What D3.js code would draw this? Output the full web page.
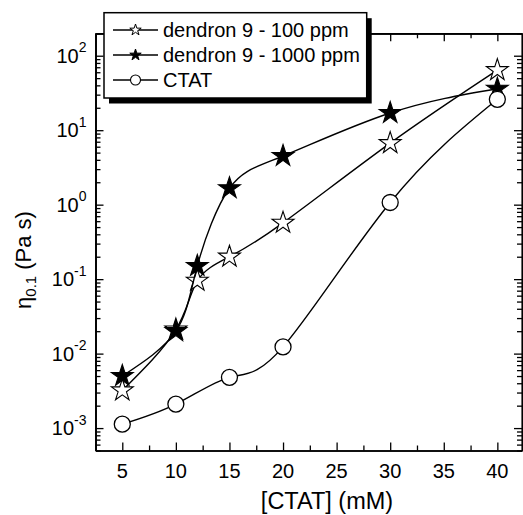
<!DOCTYPE html>
<html>
<head>
<meta charset="utf-8">
<script src="https://cdn.jsdelivr.net/npm/d3@7"></script>
<style>
  html, body { margin: 0; padding: 0; background: #fff; }
  svg { display: block; font-family: "Liberation Sans", Arial, sans-serif; }
</style>
</head>
<body>
<svg id="chart" width="523" height="515"></svg>
<script>
// ---------------- data ----------------
const concX = [5, 10, 12, 15, 20, 30, 40];
const dendron100 = [0.0032, 0.021, 0.095, 0.20, 0.57, 6.7, 64];
const dendron1000 = [0.0050, 0.020, 0.15, 1.66, 4.5, 17, 36];
const ctatX = [5, 10, 15, 20, 30, 40];
const ctatOnly = [0.00113, 0.0021, 0.0048, 0.0123, 1.07, 26];
const seriesNames = ["dendron 9 - 100 ppm", "dendron 9 - 1000 ppm", "CTAT"];
const xTickValues = [5, 10, 15, 20, 25, 30, 35, 40];
const xTickLabels = ["5", "10", "15", "20", "25", "30", "35", "40"];
const yTickExponents = [-3, -2, -1, 0, 1, 2];
const xLabel = "[CTAT] (mM)";

// ---------------- layout ----------------
const svg = d3.select("#chart");
const L = 95.5, R = 522, T = 33.3, B = 450.5;

const x = d3.scaleLinear().domain([2.5, 42.3]).range([L, R]);
const y = d3.scaleLog().domain([5e-4, 200]).range([B, T]);

// minor ticks
const xMinor = d3.range(2.5, 42.3, 2.5).filter(v => v % 5 !== 0);
const yMinor = [];
for (let e = -4; e <= 2; e++) {
  for (let m = 2; m <= 9; m++) {
    const v = m * Math.pow(10, e);
    if (v >= 5e-4 && v <= 200) yMinor.push(v);
  }
}
const yMajor = yTickExponents.map(e => Math.pow(10, e));

function styleAxis(g) {
  g.selectAll("path").attr("stroke", "#000").attr("stroke-width", 1.7);
  g.selectAll("line").attr("stroke", "#000").attr("stroke-width", 1.3);
}

// bottom
svg.append("g").attr("transform", `translate(0,${B})`)
  .call(d3.axisBottom(x).tickValues(xTickValues).tickFormat("").tickSizeInner(-8).tickSizeOuter(0)).call(styleAxis);
svg.append("g").attr("transform", `translate(0,${B})`)
  .call(d3.axisBottom(x).tickValues(xMinor).tickFormat("").tickSizeInner(-5).tickSizeOuter(0)).call(styleAxis);
// top
svg.append("g").attr("transform", `translate(0,${T})`)
  .call(d3.axisTop(x).tickValues(xTickValues).tickFormat("").tickSizeInner(-8).tickSizeOuter(0)).call(styleAxis);
svg.append("g").attr("transform", `translate(0,${T})`)
  .call(d3.axisTop(x).tickValues(xMinor).tickFormat("").tickSizeInner(-5).tickSizeOuter(0)).call(styleAxis);
// left
svg.append("g").attr("transform", `translate(${L},0)`)
  .call(d3.axisLeft(y).tickValues(yMajor).tickFormat("").tickSizeInner(-8).tickSizeOuter(0)).call(styleAxis);
svg.append("g").attr("transform", `translate(${L},0)`)
  .call(d3.axisLeft(y).tickValues(yMinor).tickFormat("").tickSizeInner(-5).tickSizeOuter(0)).call(styleAxis);
// right
svg.append("g").attr("transform", `translate(${R},0)`)
  .call(d3.axisRight(y).tickValues(yMajor).tickFormat("").tickSizeInner(-8).tickSizeOuter(0)).call(styleAxis);
svg.append("g").attr("transform", `translate(${R},0)`)
  .call(d3.axisRight(y).tickValues(yMinor).tickFormat("").tickSizeInner(-5).tickSizeOuter(0)).call(styleAxis);

// x tick labels
svg.append("g").selectAll("text").data(xTickValues).join("text")
  .attr("x", d => x(d)).attr("y", B + 27)
  .attr("text-anchor", "middle").attr("font-size", 20).attr("fill", "#000")
  .text((d, i) => xTickLabels[i]);

// y tick labels
const yl = svg.append("g").selectAll("text").data(yTickExponents).join("text")
  .attr("x", 86.5).attr("y", d => y(Math.pow(10, d)) + 7)
  .attr("text-anchor", "end").attr("font-size", 20).attr("fill", "#000");
yl.append("tspan").text("10");
yl.append("tspan").attr("font-size", 14).attr("dy", -10.5).text(d => String(d));

// axis titles
svg.append("text").attr("x", 327).attr("y", 509).attr("text-anchor", "middle")
  .attr("font-size", 23.5).attr("fill", "#000").text(xLabel);
const yt = svg.append("text").attr("transform", "translate(31,260) rotate(-90)")
  .attr("text-anchor", "middle").attr("font-size", 22).attr("fill", "#000");
yt.append("tspan").text("η");
yt.append("tspan").attr("font-size", 15).attr("dy", 5).text("0.1");
yt.append("tspan").attr("dy", -5).text(" (Pa s)");

// ---------------- marks ----------------
function starPath(Ro) {
  const Ri = Ro * 0.382;
  const pts = [];
  for (let i = 0; i < 10; i++) {
    const r = i % 2 === 0 ? Ro : Ri;
    const a = -Math.PI / 2 + i * Math.PI / 5;
    pts.push([r * Math.cos(a), r * Math.sin(a)]);
  }
  return "M" + pts.map(p => p[0].toFixed(2) + "," + p[1].toFixed(2)).join("L") + "Z";
}

const line = d3.line().x(d => x(d[0])).y(d => y(d[1])).curve(d3.curveNatural);

const series = [
  { xs: concX, ys: dendron100, type: "star", fill: "#fff" },
  { xs: concX, ys: dendron1000, type: "star", fill: "#000" },
  { xs: ctatX, ys: ctatOnly, type: "circle", fill: "#fff" }
];

const plot = svg.append("g");
series.forEach(s => {
  const pts = s.xs.map((v, i) => [v, s.ys[i]]);
  plot.append("path").datum(pts).attr("d", line)
    .attr("fill", "none").attr("stroke", "#000").attr("stroke-width", 1.4);
  const g = plot.append("g");
  if (s.type === "star") {
    g.selectAll("path").data(pts).join("path")
      .attr("d", starPath(11.5))
      .attr("transform", d => `translate(${x(d[0])},${y(d[1])})`)
      .attr("fill", s.fill).attr("stroke", "#000").attr("stroke-width", 1.1)
      .attr("stroke-linejoin", "miter");
  } else {
    g.selectAll("circle").data(pts).join("circle")
      .attr("cx", d => x(d[0])).attr("cy", d => y(d[1])).attr("r", 8)
      .attr("fill", s.fill).attr("stroke", "#000").attr("stroke-width", 1.3);
  }
});

// ---------------- legend ----------------
const lg = svg.append("g");
const lx = 104, ly = 12.7, lw = 262.7, lh = 85.3;
lg.append("rect").attr("x", lx + 5).attr("y", ly + 5.5).attr("width", lw).attr("height", lh).attr("fill", "#000");
lg.append("rect").attr("x", lx).attr("y", ly).attr("width", lw).attr("height", lh)
  .attr("fill", "#fff").attr("stroke", "#000").attr("stroke-width", 1.5);
seriesNames.forEach((name, i) => {
  const cy = 30 + i * 25;
  lg.append("line").attr("x1", 113).attr("x2", 158).attr("y1", cy).attr("y2", cy)
    .attr("stroke", "#000").attr("stroke-width", 1.3);
  const s = series[i];
  if (s.type === "star") {
    lg.append("path").attr("d", starPath(6)).attr("transform", `translate(135.5,${cy})`)
      .attr("fill", s.fill).attr("stroke", "#000").attr("stroke-width", 1);
  } else {
    lg.append("circle").attr("cx", 135.5).attr("cy", cy).attr("r", 5)
      .attr("fill", "#fff").attr("stroke", "#000").attr("stroke-width", 1.1);
  }
  lg.append("text").attr("x", 163).attr("y", cy + 7).attr("font-size", 20).attr("fill", "#000").text(name);
});
</script>
</body>
</html>
